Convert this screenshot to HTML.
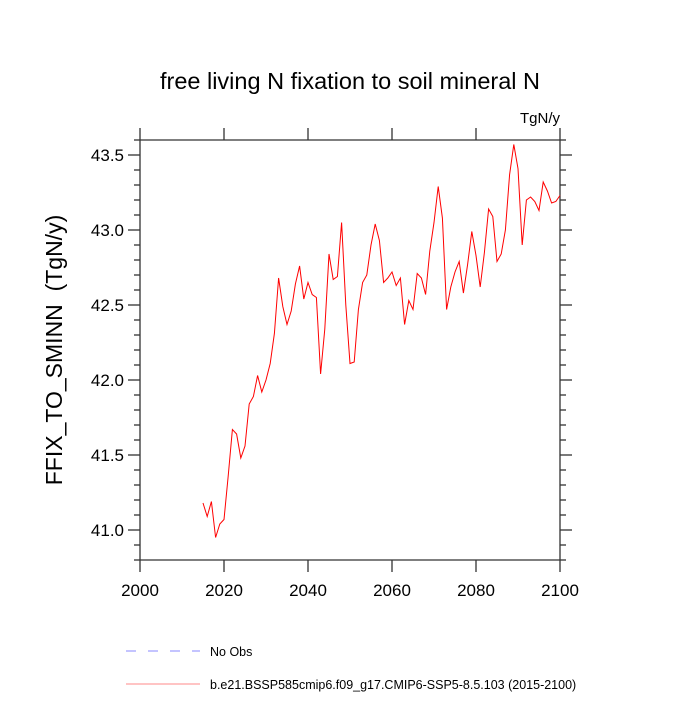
<!DOCTYPE html>
<html><head><meta charset="utf-8"><style>
body{margin:0;background:#fff;}
svg text{font-family:"Liberation Sans",Arial,sans-serif;fill:#000;}
</style></head><body>
<svg width="700" height="700" viewBox="0 0 700 700">
<text x="350" y="89" font-size="23.5" text-anchor="middle">free living N fixation to soil mineral N</text>
<text x="560" y="123" font-size="15" text-anchor="end">TgN/y</text>
<text transform="translate(62,350) rotate(-90)" font-size="23" text-anchor="middle">FFIX_TO_SMINN &#160;(TgN/y)</text>
<g id="axes"></g>
<polyline id="series" fill="none" stroke="#ff0000" stroke-width="1"/>
<g>
<line x1="126" y1="651" x2="200" y2="651" stroke="#8888ff" stroke-dasharray="10,12"/>
<text x="210" y="656" font-size="12.5">No Obs</text>
<line x1="126" y1="684" x2="200" y2="684" stroke="#ff8888"/>
<text x="210" y="689" font-size="12.5">b.e21.BSSP585cmip6.f09_g17.CMIP6-SSP5-8.5.103 (2015-2100)</text>
</g>
</svg>
<script>
const startYear = 2015;
const values = [41.18,41.09,41.19,40.95,41.04,41.07,41.36,41.67,41.64,41.48,41.56,41.84,41.89,42.03,41.92,42.0,42.11,42.31,42.68,42.49,42.37,42.46,42.64,42.76,42.54,42.65,42.57,42.55,42.04,42.34,42.84,42.67,42.69,43.05,42.5,42.11,42.12,42.47,42.65,42.70,42.9,43.04,42.93,42.65,42.68,42.72,42.63,42.68,42.37,42.53,42.47,42.71,42.68,42.57,42.86,43.05,43.29,43.08,42.47,42.62,42.72,42.79,42.58,42.77,42.99,42.83,42.62,42.85,43.14,43.09,42.79,42.84,43.0,43.37,43.57,43.41,42.9,43.2,43.22,43.19,43.13,43.32,43.26,43.18,43.19,43.23];
const xTicks = [2000,2020,2040,2060,2080,2100];
const yTicks = [41.0,41.5,42.0,42.5,43.0,43.5];
const L=140,R=560,T=140,B=560, X0=2000,X1=2100, Y0=40.8,Y1=43.6;
const xs = v => L+(v-X0)/(X1-X0)*(R-L);
const ys = v => B-(v-Y0)/(Y1-Y0)*(B-T);
const NS='http://www.w3.org/2000/svg';
const ax=document.getElementById('axes');
function ln(x1,y1,x2,y2,name){const e=document.createElementNS(NS,'line');
e.setAttribute('x1',x1);e.setAttribute('y1',y1);e.setAttribute('x2',x2);e.setAttribute('y2',y2);
e.setAttribute('stroke','#333');e.setAttribute('stroke-width','1.3');


ax.appendChild(e);}
function tx(x,y,s,anchor,name){const e=document.createElementNS(NS,'text');
e.setAttribute('x',x);e.setAttribute('y',y);e.setAttribute('font-size','17');e.setAttribute('text-anchor',anchor);e.textContent=s;


ax.appendChild(e);}
ln(L,T,R,T,'plot-frame-top');ln(L,B,R,B,'plot-frame-bottom');ln(L,T,L,B,'plot-frame-left');ln(R,T,R,B,'plot-frame-right');
xTicks.forEach(v=>{const x=xs(v);ln(x,B,x,B+12,'x-tick');ln(x,T,x,T-12,'x-tick-top');tx(x,B+36,String(v),'middle','x-tick-label');});
for(let i=0;i<=28;i++){const v=Y0+i*0.1;const y=ys(v);const major=yTicks.some(t=>Math.abs(t-v)<1e-6);const len=major?12:6;
ln(L-len,y,L,y,'y-tick');ln(R,y,R+len,y,'y-tick-right');}
yTicks.forEach(v=>tx(L-16,ys(v)+6,v.toFixed(1),'end','y-tick-label'));
document.getElementById('series').setAttribute('points',values.map((v,i)=>xs(startYear+i).toFixed(2)+','+ys(v).toFixed(2)).join(' '));
</script>
</body></html>
